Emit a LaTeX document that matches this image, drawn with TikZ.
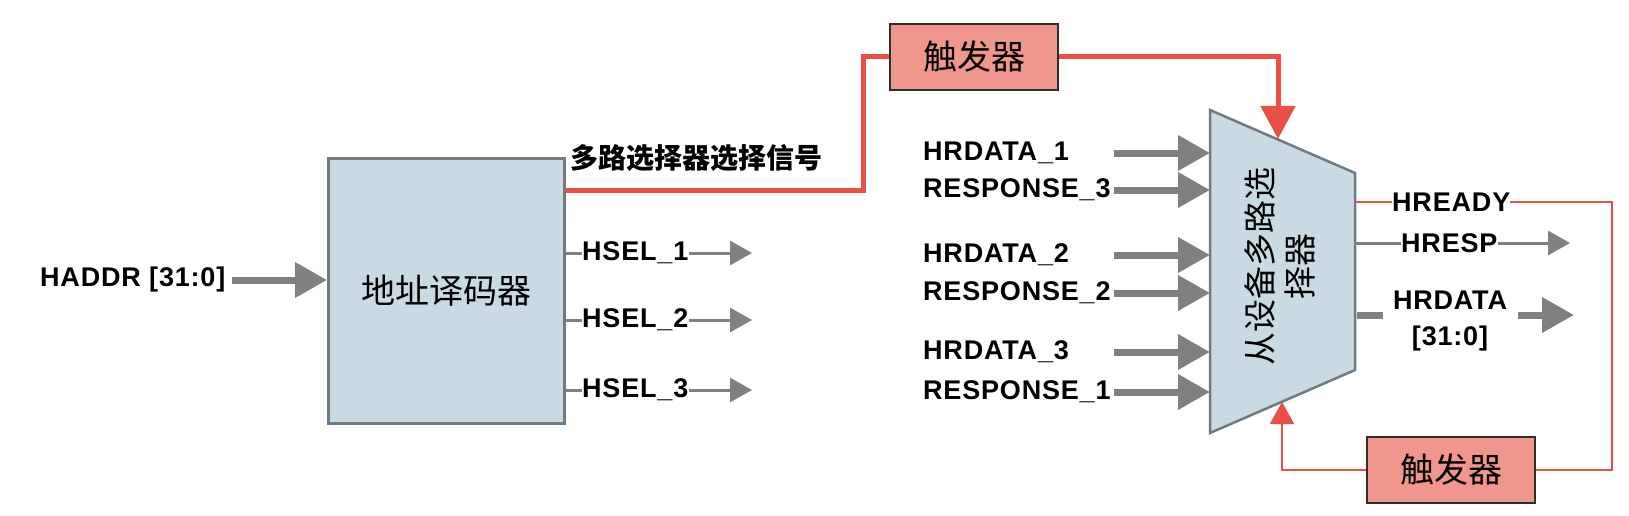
\documentclass[tikz,border=0pt]{standalone}
\usepackage{fontspec}
\setmainfont{Liberation Sans}[LetterSpace=3]
\newfontfamily\cjk{Noto Sans CJK SC}
\usetikzlibrary{arrows.meta}
\definecolor{boxfill}{RGB}{201,218,226}
\definecolor{boxline}{RGB}{112,122,128}
\definecolor{trigfill}{RGB}{240,150,140}
\definecolor{trigline}{RGB}{45,45,45}
\definecolor{redline}{RGB}{232,80,70}
\definecolor{grayline}{RGB}{128,128,128}
\begin{document}
\begin{tikzpicture}[x=1pt,y=-1pt,
  lbl/.style={inner sep=0pt,font=\fontsize{27}{29}\selectfont\bfseries},
  blockbox/.style={draw=boxline,fill=boxfill,line width=2.5pt},
  trigbox/.style={draw=trigline,fill=trigfill,line width=2.5pt,minimum width=168pt,minimum height=66pt,inner sep=0pt,font=\cjk\fontsize{34}{36}\selectfont},
  thickarrow/.style={draw=grayline,line width=7pt,-{Triangle[length=32pt,width=34pt]}},
  thinarrow/.style={draw=grayline,line width=3pt,-{Triangle[length=22pt,width=24pt]}},
  thinline/.style={draw=grayline,line width=3pt},
  redthick/.style={draw=redline,line width=5pt},
  redthin/.style={draw=redline,line width=2pt},
]
\useasboundingbox (0,0) rectangle (1629,516);
\fill[white] (0,0) rectangle (1629,516);

% decoder
\node[blockbox,minimum width=236pt,minimum height=265pt,inner sep=0pt,anchor=north west,font=\cjk\fontsize{34}{36}\selectfont] (dec) at (327,157) {地址译码器};

% HADDR
\node[lbl,anchor=west] (haddr) at (40,280) {HADDR [31:0]};
\coordinate (haddrs) at (232,280);
\draw[thickarrow] (haddrs) -- (dec.west |- haddrs);

% HSEL outputs
\foreach \i/\y in {1/253,2/320,3/390}{
  \node[lbl,anchor=west] (hsel\i) at (582,\y) {HSEL\_\i};
  \coordinate (hselend\i) at (752,\y);
  \draw[thinline] (dec.east |- hsel\i.west) -- (hsel\i.west);
  \draw[thinarrow] (hsel\i.east) -- (hselend\i);
}

% top trigger
\node[trigbox] (trig1) at (974,57) {触发器};
\node[inner sep=0pt,anchor=west,font=\cjk\bfseries\fontsize{28}{30}\selectfont] (sellbl) at (570,158) {多路选择器选择信号};

% mux
\coordinate (mtl) at (1210,110);
\coordinate (mtr) at (1355,173);
\coordinate (mbr) at (1355,370);
\coordinate (mbl) at (1210,433);
\draw[blockbox] (mtl) -- (mtr) -- (mbr) -- (mbl) -- cycle;
\node[rotate=90,align=center,inner sep=0pt,font=\cjk\fontsize{33}{40}\selectfont] (muxtxt) at (1280,266) {从设备多路选\\择器};

% red path from decoder to trigger and mux
\coordinate (mtop) at (1278,139);
\draw[redthick,line join=miter] (dec.east |- 0,190) -- (863,190) -- (863,57) -- (trig1.west);
\draw[redthick,-{Triangle[length=33pt,width=34pt]}] (trig1.east) -- (1278,57) -- (mtop);

% inputs
\foreach \n/\t/\y in {a/HRDATA\_1/153,b/RESPONSE\_3/190,c/HRDATA\_2/255,d/RESPONSE\_2/293,e/HRDATA\_3/352,f/RESPONSE\_1/392}{
  \node[lbl,anchor=west] (in\n) at (923,\y) {\t};
  \coordinate (ins\n) at (1114,\y);
  \coordinate (ine\n) at (1210,\y);
  \draw[thickarrow] (ins\n) -- (ine\n);
}

% outputs
\node[lbl,anchor=west] (hready) at (1392,202) {HREADY};
\node[lbl,anchor=west] (hresp) at (1401,243) {HRESP};
\node[lbl,align=center,font=\fontsize{27}{36}\selectfont\bfseries] (hrdata) at (1450,321) {HRDATA\\{}[31:0]};
\coordinate (hrespend) at (1570,243);
\coordinate (hrdatas) at (1518,315);
\coordinate (hrdataend) at (1574,315);
\draw[thinline] (mtr |- hresp.west) -- (hresp.west);
\draw[thinarrow] (hresp.east) -- (hrespend);
\draw[grayline,line width=7pt] (1357,315) -- (1383,315);
\draw[thickarrow] (hrdatas) -- (hrdataend);

% bottom trigger and feedback
\node[trigbox] (trig2) at (1451,470) {触发器};
\coordinate (mbot) at (1282,402);
\draw[redthin] (mtr |- hready.west) -- (hready.west);
\draw[redthin] (hready.east) -- (1612,202) -- (1612,470) -- (trig2.east);
\draw[redthin,-{Triangle[length=22pt,width=24pt]}] (trig2.west) -- (1282,470) -- (mbot);
\end{tikzpicture}
\end{document}
